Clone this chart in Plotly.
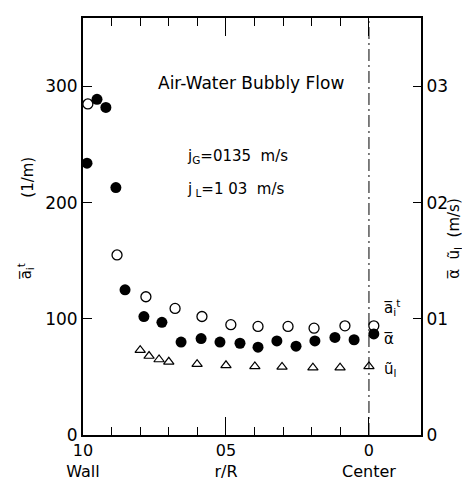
import plotly.graph_objects as go

# Open circles: interfacial area concentration a_i^t (1/m)
r_ai = [0.983, 0.881, 0.780, 0.678, 0.584, 0.483, 0.388, 0.283, 0.192, 0.084, -0.017]
ai = [285, 155, 119, 109, 102, 95, 93.5, 93.5, 92, 94, 94]

# Filled circles: void fraction alpha (right axis, -)
r_alpha = [0.986, 0.951, 0.920, 0.885, 0.853, 0.787, 0.724, 0.657, 0.587, 0.521,
           0.451, 0.388, 0.322, 0.255, 0.189, 0.119, 0.052, -0.017]
alpha = [0.234, 0.289, 0.282, 0.213, 0.125, 0.102, 0.097, 0.080, 0.083, 0.080,
         0.079, 0.0756, 0.081, 0.0765, 0.081, 0.084, 0.082, 0.087]

# Triangles: liquid velocity u_l (m/s, right axis)
r_ul = [0.800, 0.769, 0.734, 0.700, 0.601, 0.500, 0.399, 0.304, 0.196, 0.101, 0.0]
ul = [0.073, 0.068, 0.065, 0.063, 0.061, 0.060, 0.059, 0.0586, 0.058, 0.058, 0.059]

x_tickvals = [1.0, 0.5, 0.0]
x_ticktext = ["10<br>Wall", "05<br>r/R", "0<br>Center"]
x_minor = [0.9, 0.8, 0.7, 0.6, 0.4, 0.3, 0.2, 0.1]
yl_tickvals = [0, 100, 200, 300]
yl_ticktext = ["0", "100", "200", "300"]
yr_tickvals = [0, 0.1, 0.2, 0.3]
yr_ticktext = ["0", "01", "02", "03"]

FONT = "DejaVu Sans"

fig = go.Figure()
fig.add_trace(go.Scatter(x=r_ai, y=ai, mode="markers",
                         marker=dict(symbol="circle-open", size=10, color="black",
                                     line=dict(width=1.3, color="black")),
                         yaxis="y", showlegend=False))
fig.add_trace(go.Scatter(x=r_alpha, y=alpha, mode="markers",
                         marker=dict(symbol="circle", size=11, color="black"),
                         yaxis="y2", showlegend=False))
fig.add_trace(go.Scatter(x=r_ul, y=ul, mode="markers",
                         marker=dict(symbol="triangle-up-open", size=9, color="black",
                                     line=dict(width=1.2, color="black")),
                         yaxis="y2", showlegend=False))

fig.update_layout(
    width=470, height=481,
    margin=dict(l=75, r=57, t=8, b=50),
    paper_bgcolor="white", plot_bgcolor="white",
    font=dict(family=FONT, size=16, color="black"),
    xaxis=dict(range=[1.0, -0.182], showgrid=False, zeroline=False,
               showline=True, linecolor="black", linewidth=2, mirror="ticks",
               ticks="inside", ticklen=18, tickwidth=1.3, tickcolor="black",
               tickmode="array", tickvals=x_tickvals, ticktext=x_ticktext,
               minor=dict(tickmode="array", tickvals=x_minor, ticks="inside", ticklen=8,
                          tickwidth=1.3, tickcolor="black", showgrid=False),
               tickfont=dict(size=16)),
    yaxis=dict(range=[0, 359], showgrid=False, zeroline=False,
               showline=True, linecolor="black", linewidth=2, mirror=True,
               ticks="inside", ticklen=9, tickwidth=1.3, tickcolor="black",
               tickmode="array", tickvals=yl_tickvals, ticktext=yl_ticktext,
               tickfont=dict(size=17)),
    yaxis2=dict(range=[0, 0.359], overlaying="y", side="right", showgrid=False,
                zeroline=False, showline=True, linecolor="black", linewidth=2,
                ticks="inside", ticklen=8, tickwidth=1.3, tickcolor="black",
                tickmode="array", tickvals=yr_tickvals, ticktext=yr_ticktext,
                tickfont=dict(size=17)),
)

# Center line
fig.add_shape(type="line", xref="x", yref="paper", x0=0, x1=0, y0=0, y1=1,
              line=dict(color="black", width=1, dash="12px,4px,2px,4px"))

def ann(size=15):
    return dict(showarrow=False, font=dict(family=FONT, size=size, color="black"))

fig.add_annotation(x=0.413, y=303, xref="x", yref="y", text="Air-Water Bubbly Flow", **ann(17))
fig.add_annotation(x=0.643, y=240, xref="x", yref="y", xanchor="left",
                   text="j<sub>G</sub>=0135  m/s", **ann(15))
fig.add_annotation(x=0.643, y=211, xref="x", yref="y", xanchor="left",
                   text="j<sub> L</sub>=1 03  m/s", **ann(15))
fig.add_annotation(x=-0.045, y=110, xref="x", yref="y", xanchor="left",
                   text="a\u0305<sub>i</sub><sup>t</sup>", **ann(15))
fig.add_annotation(x=-0.045, y=83, xref="x", yref="y", xanchor="left",
                   text="\u03b1\u0305", **ann(15))
fig.add_annotation(x=-0.045, y=56, xref="x", yref="y", xanchor="left",
                   text="\u0169<sub>l</sub>", **ann(15))

# Axis titles (pixel positions, converted to paper coords below)
fig.add_annotation(x=17, y=265, xref="paper", yref="paper", textangle=-90,
                   xanchor="center", yanchor="middle",
                   text="a\u0305<sub>i</sub><sup>t</sup>", **ann(15))
fig.add_annotation(x=20, y=170, xref="paper", yref="paper", textangle=-90,
                   xanchor="center", yanchor="middle",
                   text="(1/m)", **ann(15))
fig.add_annotation(x=447, y=232, xref="paper", yref="paper", textangle=-90,
                   xanchor="center", yanchor="middle",
                   text="\u03b1\u0305  \u0169<sub>l</sub>  (m/s)", **ann(15))

L, R, T, B = 75, 413, 8, 431
for a in fig.layout.annotations:
    if a.xref == "paper":
        a.x = (a.x - L) / (R - L)
        a.y = 1 - (a.y - T) / (B - T)

fig.write_html("out.html")
